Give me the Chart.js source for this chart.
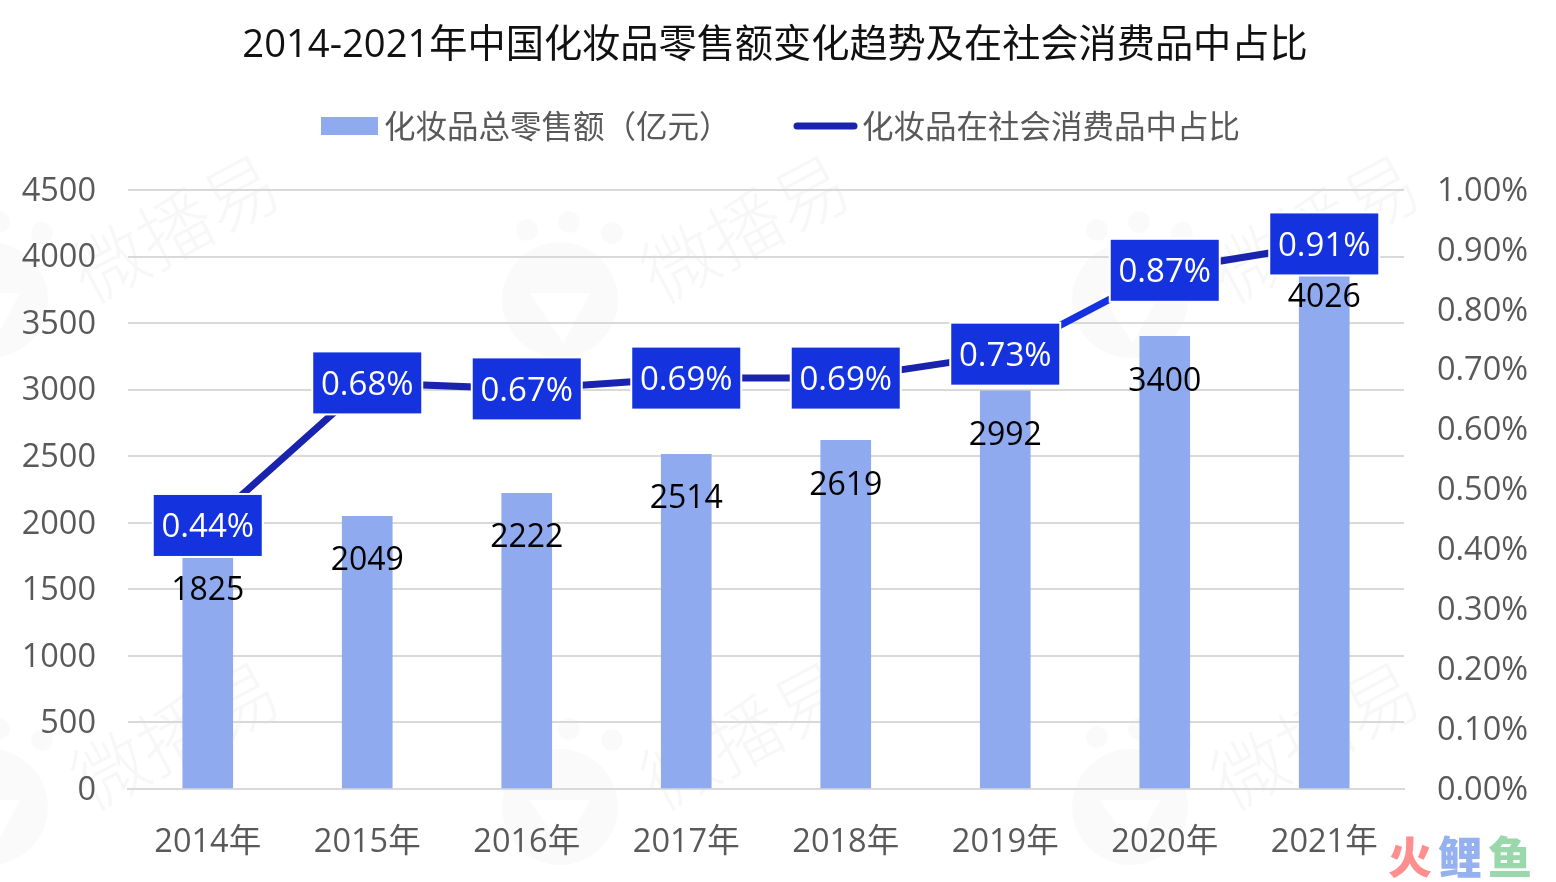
<!DOCTYPE html>
<html lang="zh">
<head>
<meta charset="utf-8">
<title>2014-2021年中国化妆品零售额变化趋势及在社会消费品中占比</title>
<script src="https://cdn.jsdelivr.net/npm/chart.js@4"></script>
<style>
  html, body { margin: 0; padding: 0; background: #fff; }
  canvas { display: block; }
</style>
</head>
<body>
<canvas id="cosmeticsChart" width="1556" height="882"></canvas>
<script>
const FONT = "'Open Sans', 'Noto Sans CJK SC', sans-serif";
const TEXT = '#595959';

const years = ['2014年', '2015年', '2016年', '2017年', '2018年', '2019年', '2020年', '2021年'];
const retailSales = [1825, 2049, 2222, 2514, 2619, 2992, 3400, 4026];
const shareOfConsumerGoods = [0.44, 0.678, 0.668, 0.686, 0.686, 0.726, 0.866, 0.91];

// Faint repeating watermark behind the plot
function drawWatermark(ctx, logoX, logoY) {
  ctx.save();
  ctx.fillStyle = 'rgba(0,0,0,0.02)';
  ctx.beginPath();
  ctx.arc(logoX, logoY, 58, 0, Math.PI * 2);
  ctx.fill();
  [[-33, -70], [9, -78], [52, -67]].forEach(([dx, dy]) => {
    ctx.beginPath();
    ctx.arc(logoX + dx, logoY + dy, 11, 0, Math.PI * 2);
    ctx.fill();
  });
  ctx.fillStyle = '#fff';
  ctx.beginPath();
  ctx.moveTo(logoX - 30, logoY - 7);
  ctx.lineTo(logoX + 30, logoY - 7);
  ctx.lineTo(logoX + 3, logoY + 43);
  ctx.closePath();
  ctx.fill();
  ctx.fillStyle = 'rgba(0,0,0,0.03)';
  ctx.translate(logoX + 185, logoY - 72);
  ctx.rotate(-28 * Math.PI / 180);
  ctx.font = "300 74px 'Noto Sans CJK SC'";
  ctx.textAlign = 'center';
  ctx.textBaseline = 'middle';
  ctx.fillText('微播易', 0, 0);
  ctx.restore();
}

const backdropPlugin = {
  id: 'backdrop',
  beforeDraw(chart) {
    const { ctx } = chart;
    [300, 807].forEach((y) => {
      [-10, 560, 1130].forEach((x) => drawWatermark(ctx, x, y));
    });
  },
  afterDraw(chart) {
    const { ctx } = chart;
    ctx.save();
    ctx.font = "900 44px 'Noto Sans CJK SC'";
    ctx.textAlign = 'center';
    ctx.textBaseline = 'middle';
    [['火', 1410, '#FF8E8E'], ['鲤', 1460, '#96B1F0'], ['鱼', 1510, '#98D8AA']].forEach(([ch, x, color]) => {
      ctx.fillStyle = color;
      ctx.fillText(ch, x, 857);
    });
    ctx.restore();
  },
};

// Legend laid out by hand: a wide swatch and a rounded line
const legendPlugin = {
  id: 'customLegend',
  afterDraw(chart) {
    const { ctx } = chart;
    const [bars, line] = chart.data.datasets;
    ctx.save();
    ctx.font = `31.5px ${FONT}`;
    ctx.textBaseline = 'middle';
    ctx.textAlign = 'left';
    ctx.fillStyle = bars.backgroundColor;
    ctx.fillRect(321, 117, 57, 18);
    ctx.strokeStyle = line.borderColor;
    ctx.lineWidth = 7;
    ctx.lineCap = 'round';
    ctx.beginPath();
    ctx.moveTo(797, 126);
    ctx.lineTo(854, 126);
    ctx.stroke();
    ctx.fillStyle = TEXT;
    ctx.fillText(bars.label, 384, 129);
    ctx.fillText(line.label, 862, 129);
    ctx.restore();
  },
};

// Value labels: black under the bar top, white on a blue box for the line
const valueLabelPlugin = {
  id: 'valueLabels',
  afterDatasetsDraw(chart) {
    const { ctx } = chart;
    ctx.save();
    ctx.textAlign = 'center';
    ctx.textBaseline = 'middle';
    ctx.font = `32px ${FONT}`;
    chart.getDatasetMeta(0).data.forEach((bar, i) => {
      ctx.fillStyle = '#000';
      ctx.fillText(chart.data.datasets[0].data[i], bar.x, bar.y + 45);
    });
    ctx.font = `33px ${FONT}`;
    chart.getDatasetMeta(1).data.forEach((pt, i) => {
      ctx.fillStyle = '#fff';
      ctx.fillRect(pt.x - 56, pt.y - 32.5, 112, 65);
      ctx.fillStyle = '#1433DE';
      ctx.fillRect(pt.x - 54, pt.y - 30.5, 108, 61);
      ctx.fillStyle = '#fff';
      ctx.fillText(chart.data.datasets[1].data[i].toFixed(2) + '%', pt.x, pt.y + 2.5);
    });
    ctx.restore();
  },
};

// An empty first line with a 3px line height pushes tick text 1.5px down onto the grid line
const tickFont = { family: FONT, size: 32.5, lineHeight: '3px' };
const nudged = (text) => ['', text];

new Chart(document.getElementById('cosmeticsChart'), {
  data: {
    labels: years,
    datasets: [
      {
        type: 'bar',
        label: '化妆品总零售额（亿元）',
        data: retailSales,
        yAxisID: 'y',
        backgroundColor: '#8FAAEE',
        barThickness: 50,
        order: 2,
      },
      {
        type: 'line',
        label: '化妆品在社会消费品中占比',
        data: shareOfConsumerGoods,
        yAxisID: 'y1',
        borderColor: '#1A23AE',
        borderWidth: 7,
        pointRadius: 0,
        tension: 0,
        order: 1,
        segment: {
          // the 2019→2020 stretch is a brighter blue in the source
          borderColor: (c) => (c.p0DataIndex === 5 ? '#1433DE' : undefined),
        },
      },
    ],
  },
  options: {
    responsive: false,
    animation: false,
    devicePixelRatio: 1,
    layout: { padding: { right: 6 } },
    plugins: {
      legend: { display: false },
      tooltip: { enabled: false },
      title: {
        display: true,
        text: '2014-2021年中国化妆品零售额变化趋势及在社会消费品中占比',
        color: '#111',
        font: { family: FONT, size: 38.2, weight: 'normal', lineHeight: 1.2 },
        padding: { top: 23, bottom: 121.2 },
      },
    },
    scales: {
      x: {
        offset: true,
        grid: { display: false, drawTicks: false },
        border: { color: '#D9D9D9', width: 2 },
        ticks: { color: TEXT, font: { family: FONT, size: 32.5 }, padding: 34, maxRotation: 0 },
        afterFit: (scale) => { scale.height = 93; },
      },
      y: {
        position: 'left',
        min: 0,
        max: 4500,
        grid: { color: '#D9D9D9', lineWidth: 2, drawTicks: false },
        border: { display: false },
        ticks: {
          stepSize: 500,
          color: TEXT,
          font: tickFont,
          padding: 32,
          callback: (v) => nudged(String(v)),
        },
        afterFit: (scale) => { scale.width = 128; },
      },
      y1: {
        position: 'right',
        min: 0,
        max: 1,
        grid: { display: false, drawTicks: false },
        border: { display: false },
        ticks: {
          stepSize: 0.1,
          color: TEXT,
          font: tickFont,
          padding: 33,
          callback: (v) => nudged(v.toFixed(2) + '%'),
        },
        afterFit: (scale) => { scale.width = 146; },
      },
    },
  },
  plugins: [backdropPlugin, legendPlugin, valueLabelPlugin],
});
</script>
</body>
</html>
